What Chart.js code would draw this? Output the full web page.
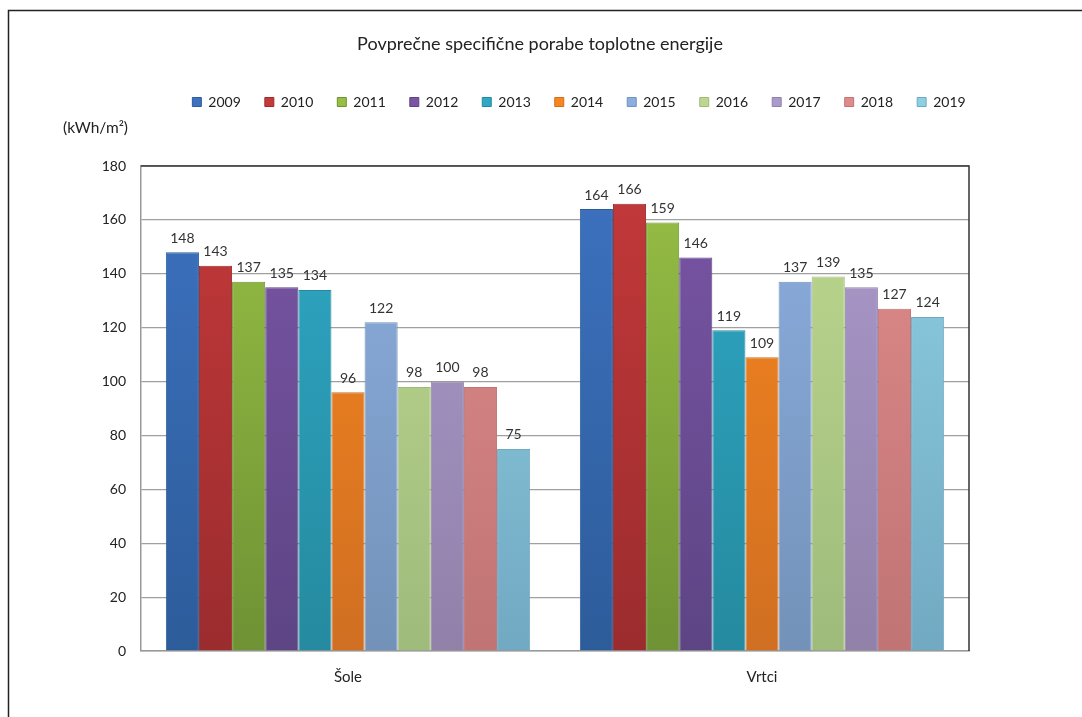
<!DOCTYPE html>
<html>
<head>
<meta charset="utf-8">
<script src="https://cdn.jsdelivr.net/npm/chart.js@4"></script>
<style>
  html, body { margin: 0; padding: 0; background: #fff; overflow: hidden; }
  #wrap { width: 1082px; height: 717px; position: relative; }
</style>
</head>
<body>
<div id="wrap"><canvas id="chart"></canvas></div>
<script>
// data
const categories = ['Šole', 'Vrtci'];
const years = ['2009', '2010', '2011', '2012', '2013', '2014', '2015', '2016', '2017', '2018', '2019'];
const sole  = [148, 143, 137, 135, 134, 96, 122, 98, 100, 98, 75];
const vrtci = [164, 166, 159, 146, 119, 109, 137, 139, 135, 127, 124];
const yTicks = [0, 20, 40, 60, 80, 100, 120, 140, 160, 180];

// top (light) and bottom (dark) colour of every year's bar
const topColors = ['#3d72c0', '#c4393a', '#98bf45', '#7a55a6', '#2fa8c6', '#f7861e', '#8daee0', '#bdd88e', '#aa99cc', '#e08b8b', '#8dd0e3'];
const bottomColors = ['#2d5c9a', '#9b2c2e', '#6e9234', '#5d4584', '#258a9f', '#d06f22', '#7392b9', '#9fbb7c', '#9181a9', '#c07474', '#72a9c2'];

const FONT = 'Lato, "Open Sans", sans-serif';

function barFill(i) {
    return function(ctx) {
        const area = ctx.chart.chartArea;
        if (!area) return topColors[i];
        const g = ctx.chart.ctx.createLinearGradient(0, area.bottom, 0, area.top);
        g.addColorStop(0, bottomColors[i]);
        g.addColorStop(1, topColors[i]);
        return g;
    };
}

const datasets = years.map(function(y, i) {
    return {
        label: y,
        data: [sole[i], vrtci[i]],
        backgroundColor: barFill(i),
        borderColor: bottomColors[i],
        borderWidth: 1,
        barPercentage: 1,
        categoryPercentage: 0.88
    };
});

// title, value labels above bars, unit label and outer frame
const extras = {
    id: 'extras',
    afterDatasetsDraw(chart) {
        const c = chart.ctx;
        c.save();
        c.font = '14px ' + FONT;
        c.fillStyle = '#333';
        c.textAlign = 'center';
        c.textBaseline = 'bottom';
        chart.data.datasets.forEach(function(ds, i) {
            chart.getDatasetMeta(i).data.forEach(function(bar, j) {
                c.fillText(ds.data[j], bar.x, bar.y - 7);
            });
        });
        const a = chart.chartArea;
        // plot border: dark top and right
        c.strokeStyle = '#333';
        c.lineWidth = 1.5;
        c.beginPath();
        c.moveTo(a.left, a.top);
        c.lineTo(a.right, a.top);
        c.lineTo(a.right, a.bottom);
        c.stroke();
        // chart title
        c.textAlign = 'center';
        c.textBaseline = 'middle';
        c.fillStyle = '#222';
        c.font = '18px ' + FONT;
        c.fillText('Povprečne specifične porabe toplotne energije', 540, 44);
        // unit label
        c.font = '15.5px ' + FONT;
        c.textAlign = 'left';
        c.fillText('(kWh/m²)', 63, 128);
        // outer frame
        c.strokeStyle = '#222';
        c.lineWidth = 1.5;
        c.beginPath();
        c.moveTo(8.5, 717);
        c.lineTo(8.5, 10.5);
        c.lineTo(1082, 10.5);
        c.stroke();
        c.restore();
    }
};

new Chart(document.getElementById('chart'), {
    type: 'bar',
    data: { labels: categories, datasets: datasets },
    options: {
        responsive: true,
        maintainAspectRatio: false,
        animation: false,
        layout: { padding: { left: 76, right: 0, top: 71, bottom: 0 } },
        plugins: {
            title: { display: false },
            legend: {
                display: true,
                position: 'top',
                labels: {
                    color: '#222',
                    font: { family: FONT, size: 14 },
                    boxWidth: 9,
                    boxHeight: 9,
                    padding: 24
                }
            },
            tooltip: { enabled: false }
        },
        scales: {
            x: {
                grid: { display: false },
                border: { color: '#999', width: 1.5 },
                ticks: { color: '#222', font: { family: FONT, size: 15 }, padding: 9 },
                afterFit(scale) { scale.height = 66; }
            },
            gap: {
                type: 'category',
                position: 'top',
                grid: { display: false },
                border: { display: false },
                ticks: { display: false },
                afterFit(scale) { scale.height = 47; }
            },
            y: {
                min: 0,
                max: 180,
                afterBuildTicks(scale) { scale.ticks = yTicks.map(function(v) { return { value: v }; }); },
                grid: { color: '#a0a0a0', lineWidth: 1.2, drawTicks: false },
                border: { color: '#999', width: 1.5 },
                ticks: { color: '#222', font: { family: FONT, size: 14 }, padding: 15 },
                afterFit(scale) { scale.width = 65; }
            },
            side: {
                type: 'linear',
                position: 'right',
                grid: { display: false },
                border: { display: false },
                ticks: { display: false },
                afterFit(scale) { scale.width = 113; }
            }
        }
    },
    plugins: [extras]
});
</script>
</body>
</html>
